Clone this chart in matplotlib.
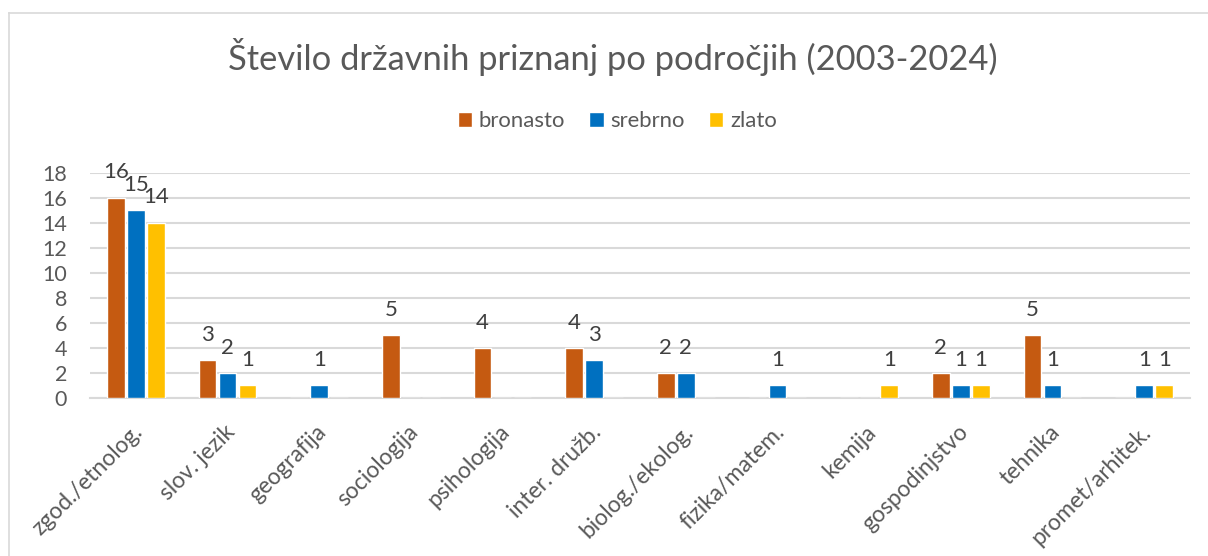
import numpy as np
import matplotlib
matplotlib.use("Agg")
import matplotlib.pyplot as plt
from matplotlib.lines import Line2D

plt.rcParams['font.family'] = ['Lato', 'DejaVu Sans']

# data
categories = ['zgod./etnolog.', 'slov. jezik', 'geografija', 'sociologija',
              'psihologija', 'inter. družb.', 'biolog./ekolog.', 'fizika/matem.',
              'kemija', 'gospodinjstvo', 'tehnika', 'promet/arhitek.']
bronasto = [16, 3, 0, 5, 4, 4, 2, 0, 0, 2, 5, 0]
srebrno = [15, 2, 1, 0, 0, 3, 2, 1, 0, 1, 1, 1]
zlato = [14, 1, 0, 0, 0, 0, 0, 0, 1, 1, 0, 1]
series_names = ['bronasto', 'srebrno', 'zlato']
colors = ['#C55A11', '#0070C0', '#FFC000']

text_col = '#595959'
grid_col = '#D9D9D9'

fig = plt.figure(figsize=(12.08, 5.56), dpi=100)
ax = fig.add_axes([90/1208, 1-398/556, 1100/1208, (398-172.7)/556])

x = np.arange(len(categories))
step = 0.218
for i, (vals, name, c) in enumerate(zip([bronasto, srebrno, zlato], series_names, colors)):
    bars = ax.bar(x + (i-1)*step, vals, width=0.19, color=c, edgecolor='white',
                  linewidth=1, label=name, zorder=3)
    ax.bar_label(bars, labels=[str(v) if v else '' for v in vals], padding=11,
                 fontsize=16, color='#404040')

ax.set_xlim(-0.5, len(categories)-0.5)
ax.set_ylim(0, 18)
ax.set_yticks(range(0, 19, 2))
ax.yaxis.grid(True, color=grid_col, linewidth=1.5, zorder=0)
ax.set_axisbelow(True)
for s in ['top', 'right', 'left']:
    ax.spines[s].set_visible(False)
ax.spines['bottom'].set_color(grid_col)
ax.spines['bottom'].set_linewidth(1.5)
ax.tick_params(length=0, labelcolor=text_col)
ax.tick_params(axis='y', pad=16.5, labelsize=15.5)
ax.set_xticks(x + 0.04)
ax.set_xticklabels(categories, rotation=45, ha='right', va='center',
                   rotation_mode='anchor')
ax.tick_params(axis='x', pad=22, labelsize=16.5)

fig.text(0.5075, 1-57/556, 'Število državnih priznanj po področjih (2003-2024)',
         ha='center', va='center', fontsize=24.8, color=text_col)

fig.legend(loc='center', bbox_to_anchor=(0.511, 1-121/556), ncol=3, frameon=False,
           fontsize=15.9, handlelength=0.65, handleheight=0.65, handletextpad=0.3,
           columnspacing=1.1, labelcolor=text_col)

# chart-area border (cut at right/bottom)
fig.add_artist(Line2D([9/1208, 9/1208], [0, 1-13/556], color=grid_col, lw=1.2))
fig.add_artist(Line2D([9/1208, 1], [1-13/556, 1-13/556], color=grid_col, lw=1.2))

fig.savefig('out.png', dpi=100)
